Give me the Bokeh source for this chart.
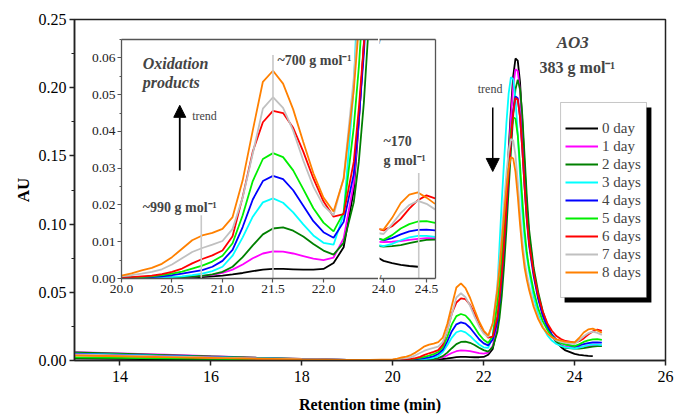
from bokeh.plotting import figure
from bokeh.models import (Range1d, Legend, LegendItem, Label, Arrow, NormalHead, BoxAnnotation,
                          FixedTicker, LinearAxis, NumeralTickFormatter, SingleIntervalTicker)
from bokeh.embed import file_html
from bokeh.resources import INLINE

NaN = float("nan")

# ---------------- data ----------------
rt = [13.0, 14.0, 15.0, 16.0, 17.0, 18.0, 19.0, 19.5,
      20.0, 20.1, 20.2, 20.3, 20.4, 20.5, 20.6, 20.7, 20.8, 20.9, 21.0, 21.1, 21.2, 21.3,
      21.4, 21.5, 21.6, 21.7, 21.8, 21.9, 22.0, 22.1, 22.2, 22.3,
      22.35, 22.4, 22.45, 22.5, 22.55, 22.6, 22.65, 22.7, 22.75, 22.8, 22.85, 22.9, 22.95, 23.0,
      23.1, 23.2, 23.3, 23.4, 23.5, 23.6, 23.7, 23.8,
      24.0, 24.1, 24.2, 24.3, 24.4, 24.5, 24.6]

day0 = [0.0015, 0.0012, 0.0009, 0.0006, 0.0004, 0.0002, 0.0001, 0.0001,
        0.0001, 0.0001, 0.0001, 0.0001, 0.0002, 0.0002, 0.0003, 0.0003, 0.0004, 0.0006, 0.0008, 0.0011,
        0.0015, 0.0020, 0.0024, 0.0026, 0.0026, 0.0025, 0.0024, 0.0024, 0.0026, 0.0042, 0.0085, 0.0240,
        0.0425, 0.0638, 0.0913, 0.1224, 0.1543, 0.1841, 0.2083, 0.2214, 0.2198, 0.2041, 0.1757, 0.1424,
        0.1131, 0.0913, 0.0647, 0.0469, 0.0338, 0.0251, 0.0183, 0.0134, 0.0099, 0.0074,
        0.0048, 0.0042, 0.0037, 0.0034, 0.0032, NaN, NaN]
day1 = [0.0062, 0.0052, 0.0042, 0.0031, 0.0021, 0.0012, 0.0005, 0.0003,
        0.0002, 0.0002, 0.0002, 0.0002, 0.0003, 0.0003, 0.0004, 0.0005, 0.0007, 0.0010, 0.0015, 0.0024,
        0.0038, 0.0055, 0.0068, 0.0074, 0.0073, 0.0068, 0.0061, 0.0054, 0.0050, 0.0057, 0.0109, 0.0259,
        0.0429, 0.0632, 0.0895, 0.1191, 0.1496, 0.1780, 0.2011, 0.2136, 0.2123, 0.1974, 0.1705, 0.1389,
        0.1112, 0.0906, 0.0655, 0.0467, 0.0332, 0.0239, 0.0178, 0.0137, 0.0114, 0.0101,
        0.0099, 0.0100, 0.0102, 0.0105, 0.0108, 0.0110, 0.0110]
day2 = [0.0060, 0.0050, 0.0040, 0.0030, 0.0020, 0.0011, 0.0004, 0.0002,
        0.0001, 0.0001, 0.0001, 0.0002, 0.0002, 0.0003, 0.0004, 0.0005, 0.0007, 0.0011, 0.0018, 0.0032,
        0.0058, 0.0090, 0.0120, 0.0136, 0.0139, 0.0130, 0.0114, 0.0094, 0.0076, 0.0065, 0.0097, 0.0207,
        0.0317, 0.0478, 0.0698, 0.0958, 0.1258, 0.1539, 0.1799, 0.1989, 0.2059, 0.1990, 0.1800, 0.1500,
        0.1200, 0.0960, 0.0680, 0.0501, 0.0361, 0.0262, 0.0183, 0.0138, 0.0109, 0.0092,
        0.0087, 0.0088, 0.0091, 0.0096, 0.0101, 0.0105, 0.0106]
day3 = [0.0050, 0.0042, 0.0034, 0.0025, 0.0017, 0.0010, 0.0004, 0.0002,
        0.0001, 0.0001, 0.0002, 0.0002, 0.0003, 0.0004, 0.0006, 0.0009, 0.0013, 0.0020, 0.0032, 0.0062,
        0.0112, 0.0168, 0.0207, 0.0218, 0.0206, 0.0180, 0.0147, 0.0117, 0.0097, 0.0092, 0.0175, 0.0520,
        0.0850, 0.1176, 0.1467, 0.1737, 0.1958, 0.2077, 0.2063, 0.1919, 0.1661, 0.1358, 0.1091, 0.0893,
        0.0760, 0.0651, 0.0469, 0.0338, 0.0247, 0.0186, 0.0146, 0.0121, 0.0107, 0.0097,
        0.0088, 0.0094, 0.0104, 0.0112, 0.0116, 0.0116, 0.0113]
day4 = [0.0048, 0.0040, 0.0032, 0.0024, 0.0016, 0.0009, 0.0004, 0.0002,
        0.0002, 0.0002, 0.0003, 0.0004, 0.0006, 0.0009, 0.0013, 0.0018, 0.0023, 0.0032, 0.0048, 0.0078,
        0.0140, 0.0215, 0.0265, 0.0279, 0.0270, 0.0240, 0.0198, 0.0156, 0.0126, 0.0111, 0.0154, 0.0284,
        0.0433, 0.0612, 0.0843, 0.1104, 0.1373, 0.1623, 0.1826, 0.1936, 0.1923, 0.1790, 0.1552, 0.1272,
        0.1026, 0.0843, 0.0619, 0.0451, 0.0330, 0.0246, 0.0190, 0.0153, 0.0131, 0.0118,
        0.0104, 0.0110, 0.0120, 0.0128, 0.0132, 0.0133, 0.0131]
day5 = [0.0022, 0.0019, 0.0016, 0.0013, 0.0009, 0.0005, 0.0003, 0.0002,
        0.0002, 0.0003, 0.0004, 0.0006, 0.0009, 0.0013, 0.0019, 0.0027, 0.0035, 0.0046, 0.0062, 0.0096,
        0.0172, 0.0265, 0.0325, 0.0341, 0.0330, 0.0294, 0.0243, 0.0191, 0.0152, 0.0128, 0.0179, 0.0411,
        0.0574, 0.0785, 0.1024, 0.1269, 0.1498, 0.1683, 0.1784, 0.1772, 0.1653, 0.1435, 0.1181, 0.0957,
        0.0790, 0.0678, 0.0511, 0.0382, 0.0289, 0.0224, 0.0178, 0.0149, 0.0129, 0.0117,
        0.0105, 0.0118, 0.0136, 0.0148, 0.0155, 0.0156, 0.0151]
day6 = [0.0040, 0.0034, 0.0027, 0.0020, 0.0013, 0.0008, 0.0004, 0.0003,
        0.0003, 0.0004, 0.0006, 0.0008, 0.0012, 0.0018, 0.0027, 0.0041, 0.0053, 0.0063, 0.0076, 0.0115,
        0.0222, 0.0345, 0.0425, 0.0456, 0.0450, 0.0410, 0.0345, 0.0272, 0.0210, 0.0168, 0.0175, 0.0317,
        0.0462, 0.0636, 0.0861, 0.1115, 0.1376, 0.1620, 0.1818, 0.1925, 0.1912, 0.1783, 0.1551, 0.1278,
        0.1039, 0.0861, 0.0643, 0.0478, 0.0358, 0.0274, 0.0218, 0.0179, 0.0157, 0.0143,
        0.0131, 0.0142, 0.0162, 0.0190, 0.0213, 0.0226, 0.0218]
day7 = [0.0045, 0.0038, 0.0030, 0.0022, 0.0015, 0.0009, 0.0005, 0.0004,
        0.0006, 0.0009, 0.0013, 0.0018, 0.0025, 0.0038, 0.0055, 0.0072, 0.0083, 0.0092, 0.0102, 0.0135,
        0.0220, 0.0340, 0.0462, 0.0493, 0.0464, 0.0402, 0.0321, 0.0250, 0.0198, 0.0172, 0.0274, 0.0545,
        0.0733, 0.0946, 0.1165, 0.1368, 0.1534, 0.1624, 0.1613, 0.1505, 0.1311, 0.1083, 0.0882, 0.0733,
        0.0633, 0.0551, 0.0414, 0.0315, 0.0246, 0.0199, 0.0168, 0.0148, 0.0137, 0.0129,
        0.0121, 0.0148, 0.0178, 0.0200, 0.0211, 0.0203, 0.0188]
day8 = [0.0037, 0.0031, 0.0025, 0.0019, 0.0013, 0.0008, 0.0005, 0.0005,
        0.0008, 0.0014, 0.0022, 0.0029, 0.0040, 0.0058, 0.0081, 0.0104, 0.0117, 0.0124, 0.0135, 0.0167,
        0.0267, 0.0403, 0.0535, 0.0565, 0.0530, 0.0460, 0.0371, 0.0286, 0.0220, 0.0182, 0.0271, 0.0513,
        0.0684, 0.0876, 0.1075, 0.1259, 0.1409, 0.1491, 0.1481, 0.1383, 0.1206, 0.0999, 0.0817, 0.0682,
        0.0591, 0.0516, 0.0392, 0.0303, 0.0240, 0.0199, 0.0171, 0.0155, 0.0145, 0.0138,
        0.0133, 0.0165, 0.0205, 0.0228, 0.0234, 0.0220, 0.0203]

labels = ["0 day", "1 day", "2 days", "3 days", "4 days", "5 days", "6 days", "7 days", "8 days"]
colors = ["#000000", "#ff00ff", "#008000", "#00ffff", "#0000ff", "#00ee00", "#ff0000", "#c0c0c0", "#ff8000"]
series = [day0, day1, day2, day3, day4, day5, day6, day7, day8]
for s in series:
    assert len(s) == len(rt)

main_x_ticks = [14, 16, 18, 20, 22, 24, 26]
inset_x_ticks = [20.0, 20.5, 21.0, 21.5, 22.0]
inset2_x_ticks = [24.0, 24.5]
marker_x = [20.79, 21.5]          # ~990 and ~700 g/mol positions
marker_top = [0.0172, 0.0608]
marker2_x = [24.41]               # ~170 g/mol position
marker2_top = [0.0287]

FONT = "Liberation Serif"
AX = "#222222"
IAX = "#555555"

# ---------------- main figure ----------------
p = figure(width=675, height=418, x_range=Range1d(13, 26), y_range=Range1d(0, 0.25),
           output_backend="svg", toolbar_location=None,
           min_border_left=74, min_border_right=10, min_border_top=19, min_border_bottom=58)
p.grid.visible = False
p.outline_line_color = AX
p.outline_line_width = 1.5
p.xaxis.ticker = FixedTicker(ticks=main_x_ticks)
p.xaxis.formatter = NumeralTickFormatter(format="0")
p.yaxis.ticker = SingleIntervalTicker(interval=0.05, num_minor_ticks=2)
p.yaxis.formatter = NumeralTickFormatter(format="0.00")
p.xaxis.axis_label = "Retention time (min)"
p.yaxis.axis_label = "AU"
for ax in (p.xaxis[0], p.yaxis[0]):
    ax.axis_line_color = AX
    ax.axis_line_width = 1.5
    ax.major_tick_line_color = AX
    ax.major_tick_line_width = 1.5
    ax.major_tick_out = 5
    ax.major_tick_in = 0
    ax.minor_tick_out = 3
    ax.minor_tick_in = 0
    ax.minor_tick_line_color = AX
    ax.minor_tick_line_width = 1.2
    ax.major_label_text_font = FONT
    ax.major_label_text_font_size = "16px"
    ax.major_label_text_color = "black"
    ax.axis_label_text_font = FONT
    ax.axis_label_text_font_style = "bold"
    ax.axis_label_text_color = "black"
p.xaxis.minor_tick_line_color = None
p.xaxis.major_label_standoff = 5
p.xaxis.axis_label_standoff = 11
p.xaxis.axis_label_text_font_size = "16px"
p.yaxis.major_label_standoff = 3
p.yaxis.axis_label_standoff = 3
p.yaxis.axis_label_text_font_size = "17px"

renderers = []
for vals, col in zip(series, colors):
    r = p.line(rt, vals, line_color=col, line_width=1.8)
    renderers.append(r)

# legend box with drop shadow
p.add_layout(BoxAnnotation(left=23.78, right=25.69, bottom=0.0425, top=0.1855,
                           fill_color="black", fill_alpha=1.0, line_color=None))
p.add_layout(BoxAnnotation(left=23.692, right=25.582, bottom=0.0462, top=0.18915,
                           fill_color="white", fill_alpha=1.0, line_color="#444444", line_width=1))
legend = Legend(items=[LegendItem(label=l, renderers=[r]) for l, r in zip(labels, renderers)],
                location=(491, 79), glyph_width=33, glyph_height=18, label_height=18,
                label_standoff=4, spacing=0, padding=0, margin=0,
                label_text_font=FONT, label_text_font_size="15px",
                border_line_alpha=0, background_fill_alpha=0)
p.add_layout(legend)

p.add_layout(Label(x=23.96, y=0.2331, text="AO3", text_align="center", text_baseline="middle",
                   text_font=FONT, text_font_style="bold italic", text_font_size="17px"))
p.add_layout(Label(x=23.23, y=0.2148, text="383 g mol\u207b\u00b9", text_align="left",
                   text_baseline="middle", text_font=FONT, text_font_style="bold",
                   text_font_size="16px"))
p.add_layout(Label(x=21.87, y=0.1994, text="trend", text_align="left", text_baseline="middle",
                   text_font=FONT, text_font_size="12px"))
p.add_layout(Arrow(x_start=22.2, y_start=0.1855, x_end=22.2, y_end=0.1386, line_width=1.5,
                   end=NormalHead(size=13, fill_color="black", line_color="black")))


# ---------------- inset helpers ----------------
def style_inset(f):
    f.grid.visible = False
    f.outline_line_color = None
    f.border_fill_color = None
    f.background_fill_color = "white"
    for ax in f.axis:
        ax.axis_line_color = IAX
        ax.axis_line_width = 1.3
        ax.major_tick_line_color = IAX
        ax.major_tick_line_width = 1.2
        ax.major_tick_out = 4
        ax.major_tick_in = 0
        ax.minor_tick_out = 2
        ax.minor_tick_in = 0
        ax.minor_tick_line_color = IAX
        ax.major_label_text_font = FONT
        ax.major_label_text_font_size = "13.5px"
        ax.major_label_text_color = "#222222"
        ax.major_label_standoff = 2


def frame_axis():
    return LinearAxis(ticker=FixedTicker(ticks=[]), major_label_text_font_size="0px",
                      major_tick_out=0, major_tick_in=0, minor_tick_out=0, minor_tick_in=0,
                      major_label_standoff=0, axis_line_color=IAX, axis_line_width=1.3)


# ---------------- inset (left segment) ----------------
ins = figure(width=297, height=273, x_range=Range1d(20, 22.545), y_range=Range1d(0, 0.065),
             output_backend="svg", toolbar_location=None,
             min_border_left=40, min_border_right=0, min_border_top=8, min_border_bottom=26,
             styles={"position": "absolute", "left": "81px", "top": "31px"})
ins.xaxis.ticker = FixedTicker(ticks=inset_x_ticks)
ins.xaxis.formatter = NumeralTickFormatter(format="0.0")
ins.yaxis.ticker = SingleIntervalTicker(interval=0.01, num_minor_ticks=2)
ins.yaxis.formatter = NumeralTickFormatter(format="0.00")
ins.add_layout(frame_axis(), "above")
style_inset(ins)
ins.xaxis.minor_tick_line_color = None
for ax in ins.above:
    ax.major_tick_out = 0
for vals, col in zip(series, colors):
    ins.line(rt, vals, line_color=col, line_width=1.8)
ins.segment(x0=marker_x, y0=[0, 0], x1=marker_x, y1=marker_top, line_color="#c8c8c8", line_width=1.6)

ins.add_layout(Label(x=20.21, y=0.0586, text="Oxidation", text_font=FONT, text_font_style="bold italic",
                     text_font_size="16px", text_baseline="alphabetic"))
ins.add_layout(Label(x=20.21, y=0.0534, text="products", text_font=FONT, text_font_style="bold italic",
                     text_font_size="16px", text_baseline="alphabetic"))
ins.add_layout(Label(x=20.70, y=0.0441, text="trend", text_font=FONT, text_font_size="12px",
                     text_baseline="alphabetic"))
ins.add_layout(Arrow(x_start=20.577, y_start=0.0294, x_end=20.577, y_end=0.0471, line_width=1.8,
                     end=NormalHead(size=12, fill_color="black", line_color="black")))
ins.add_layout(Label(x=21.545, y=0.0594, text="~700 g mol\u207b\u00b9", text_font=FONT,
                     text_font_style="bold", text_font_size="14px", text_baseline="alphabetic"))
ins.add_layout(Label(x=20.21, y=0.0193, text="~990 g mol\u207b\u00b9", text_font=FONT,
                     text_font_style="bold", text_font_size="14px", text_baseline="alphabetic"))

# ---------------- inset (right segment after the axis break) ----------------
ins2 = figure(width=76, height=273, x_range=Range1d(23.953, 24.605), y_range=Range1d(0, 0.065),
              output_backend="svg", toolbar_location=None, y_axis_location=None,
              min_border_left=16, min_border_right=4, min_border_top=8, min_border_bottom=26,
              styles={"position": "absolute", "left": "363px", "top": "31px"})
ins2.xaxis.ticker = FixedTicker(ticks=inset2_x_ticks)
ins2.xaxis.formatter = NumeralTickFormatter(format="0.0")
ins2.add_layout(frame_axis(), "above")
ins2.add_layout(frame_axis(), "right")
style_inset(ins2)
ins2.xaxis.minor_tick_line_color = None
for ax in ins2.above + ins2.right:
    ax.major_tick_out = 0
for vals, col in zip(series, colors):
    ins2.line(rt, vals, line_color=col, line_width=1.8)
ins2.segment(x0=marker2_x, y0=[0], x1=marker2_x, y1=marker2_top, line_color="#c8c8c8", line_width=1.6)
ins2.add_layout(Label(x=24.0, y=0.0373, text="~170", text_font=FONT, text_font_style="bold",
                      text_font_size="14px", text_baseline="alphabetic"))
ins2.add_layout(Label(x=24.0, y=0.0322, text="g mol\u207b\u00b9", text_font=FONT, text_font_style="bold",
                      text_font_size="14px", text_baseline="alphabetic"))
for yb in (0.065, 0.0):
    ins2.add_layout(Label(x=23.94, y=yb, text="//", text_align="center", text_baseline="middle",
                          text_font="Liberation Sans", text_font_size="11px", text_color="#555555"))

open("out.html", "w").write(file_html([p, ins, ins2], INLINE))
